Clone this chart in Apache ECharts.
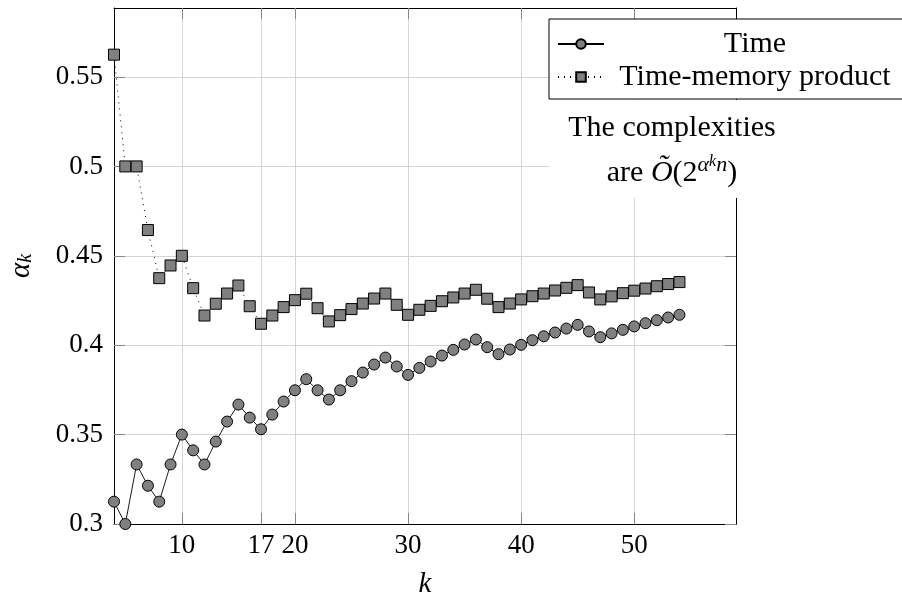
<!DOCTYPE html>
<html><head><meta charset="utf-8">
<script src="https://cdn.jsdelivr.net/npm/echarts@6/dist/echarts.min.js"></script>
<style>html,body{margin:0;padding:0;background:#fff}#c{width:902px;height:599px}</style>
</head><body><div id="c"></div>
<script>
const kValues = [4,5,6,7,8,9,10,11,12,13,14,15,16,17,18,19,20,21,22,23,24,25,26,27,28,29,30,31,32,33,34,35,36,37,38,39,40,41,42,43,44,45,46,47,48,49,50,51,52,53,54];
const timeValues = [0.3125,0.3,0.3333,0.3214,0.3125,0.3333,0.35,0.3412,0.3333,0.3461,0.3573,0.3668,0.3595,0.353,0.3612,0.3685,0.3748,0.381,0.3748,0.3696,0.3748,0.3799,0.3847,0.3892,0.3931,0.3881,0.3834,0.3873,0.3909,0.3942,0.3974,0.4004,0.4032,0.3989,0.395,0.3976,0.4002,0.4028,0.405,0.4071,0.4093,0.4114,0.4077,0.4045,0.4066,0.4086,0.4105,0.4123,0.414,0.4155,0.417];
const tmpValues = [0.5625,0.5,0.5,0.4644,0.4375,0.4446,0.45,0.4319,0.4166,0.4232,0.4289,0.4334,0.4218,0.412,0.4166,0.4213,0.4252,0.4288,0.4207,0.4133,0.4168,0.4202,0.4233,0.4261,0.4289,0.4226,0.417,0.4198,0.422,0.4246,0.4267,0.4289,0.431,0.426,0.4213,0.4233,0.4256,0.4274,0.4289,0.4306,0.4321,0.4336,0.4295,0.4256,0.4273,0.4291,0.4305,0.4317,0.433,0.4342,0.4353];
const xTicks = [10,17,20,30,40,50];
const yTicks = [0.3,0.35,0.4,0.45,0.5,0.55];
const seriesNames = ['Time','Time-memory product'];

const FONT = 'Liberation Serif';
const FS = 27;
const TFS = 30;
const tickStyle = {color:'#888', width:1};
const gridStyle = {color:'#d4d4d4', width:1};

const chart = echarts.init(document.getElementById('c'), null, {renderer:'canvas'});
chart.setOption({
  animation:false,
  backgroundColor:'#fff',
  grid:{left:114, right:166, top:8, bottom:75, containLabel:false, outerBoundsMode:'none'},
  legend:{
    orient:'vertical', left:549, top:19,
    data:seriesNames,
    backgroundColor:'#fff', borderColor:'#000', borderWidth:1, borderRadius:0,
    padding:[10,20,7,8], itemGap:3, itemWidth:46, itemHeight:12,
    z:20,
    formatter: n => '{t|' + n + '}',
    textStyle:{rich:{t:{width:292, align:'center', fontSize:TFS, fontFamily:FONT, color:'#000', lineHeight:32}}}
  },
  xAxis:[
    {type:'value', min:4, max:59, position:'bottom',
     axisLine:{show:true, lineStyle:{color:'#000', width:1}},
     axisTick:{show:true, inside:true, length:11, customValues:xTicks, lineStyle:tickStyle},
     axisLabel:{customValues:xTicks, fontSize:FS, fontFamily:FONT, color:'#000', margin:8},
     splitLine:{show:true, lineStyle:gridStyle},
     name:'k', nameLocation:'middle', nameGap:46,
     nameTextStyle:{fontStyle:'italic', fontSize:29, fontFamily:FONT, color:'#000'}},
    {type:'value', min:4, max:59, position:'top',
     axisLine:{show:true, lineStyle:{color:'#000', width:1}},
     axisTick:{show:true, inside:true, length:11, customValues:xTicks, lineStyle:tickStyle},
     axisLabel:{show:false}, splitLine:{show:false}}
  ],
  yAxis:[
    {type:'value', min:0.3, max:0.5886, position:'left',
     axisLine:{show:true, lineStyle:{color:'#000', width:1}},
     axisTick:{show:true, inside:true, length:11, customValues:yTicks, lineStyle:tickStyle},
     axisLabel:{customValues:yTicks, fontSize:FS, fontFamily:FONT, color:'#000', margin:11,
       formatter: v => String(Math.round(v*100)/100)},
     splitLine:{show:true, lineStyle:gridStyle},
     name:'{a|α}{b|k}', nameLocation:'middle', nameGap:78, nameRotate:90,
     nameTextStyle:{rich:{
       a:{fontStyle:'italic', fontSize:29, fontFamily:FONT, color:'#000', lineHeight:30},
       b:{fontStyle:'italic', fontSize:20, fontFamily:FONT, color:'#000', lineHeight:20, verticalAlign:'bottom'}}}},
    {type:'value', min:0.3, max:0.5886, position:'right',
     axisLine:{show:true, lineStyle:{color:'#000', width:1}},
     axisTick:{show:true, inside:true, length:11, customValues:yTicks, lineStyle:tickStyle},
     axisLabel:{show:false}, splitLine:{show:false}}
  ],
  series:[
    {name:seriesNames[0], type:'line', data:kValues.map((k,i)=>[k,timeValues[i]]),
     symbol:'circle', symbolSize:11, showAllSymbol:true,
     lineStyle:{color:'#000', width:0.9},
     itemStyle:{color:'#808080', borderColor:'#000', borderWidth:1}, z:3},
    {name:seriesNames[1], type:'line', data:kValues.map((k,i)=>[k,tmpValues[i]]),
     symbol:'rect', symbolSize:11, showAllSymbol:true,
     lineStyle:{color:'#000', width:1, type:[1,5]},
     itemStyle:{color:'#808080', borderColor:'#000', borderWidth:1}, z:4}
  ],
  graphic:[
    {type:'rect', z:15, shape:{x:550, y:100, width:260, height:98}, style:{fill:'#fff'}},
    {type:'text', z:16, x:672, y:128, style:{text:'The complexities', fontSize:TFS, fontFamily:FONT, fill:'#000', align:'center', verticalAlign:'middle'}},
    {type:'text', z:16, x:672, y:173, style:{
      text:'{n|are }{o|Õ}{n|(2}{a|α}{b|k}{a|n}{n|)}',
      align:'center', verticalAlign:'middle',
      rich:{
        n:{fontSize:TFS, fontFamily:FONT, fill:'#000', lineHeight:38},
        o:{fontSize:TFS, fontFamily:FONT, fontStyle:'italic', fill:'#000', lineHeight:38},
        a:{fontSize:22, fontFamily:FONT, fontStyle:'italic', fill:'#000', lineHeight:24, verticalAlign:'top'},
        b:{fontSize:16, fontFamily:FONT, fontStyle:'italic', fill:'#000', lineHeight:36, verticalAlign:'top'}
      }}}
  ]
});
</script>
</body></html>
